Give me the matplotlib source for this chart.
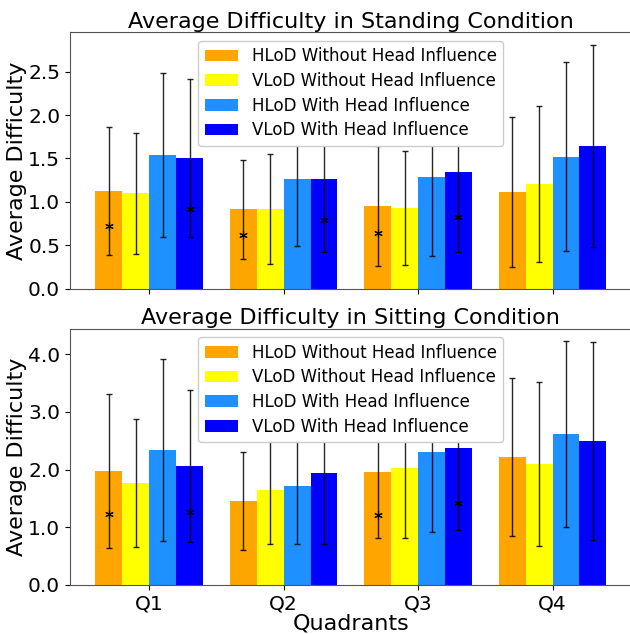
import numpy as np
import matplotlib.pyplot as plt

quadrants = ['Q1', 'Q2', 'Q3', 'Q4']
labels = ['HLoD Without Head Influence', 'VLoD Without Head Influence',
          'HLoD With Head Influence', 'VLoD With Head Influence']
colors = ['orange', 'yellow', 'dodgerblue', 'blue']

# Standing condition: mean and std per series
stand_mean = [
    [1.125, 0.918, 0.953, 1.114],
    [1.100, 0.918, 0.930, 1.206],
    [1.540, 1.264, 1.287, 1.521],
    [1.506, 1.264, 1.345, 1.644],
]
stand_std = [
    [0.735, 0.570, 0.690, 0.860],
    [0.697, 0.635, 0.655, 0.900],
    [0.948, 0.769, 0.914, 1.090],
    [0.908, 0.845, 0.919, 1.168],
]
# asterisk markers (orange and dark blue only)
stand_star_h = [0.72, 0.615, 0.638, np.nan]
stand_star_v = [0.915, 0.79, 0.826, np.nan]

# Sitting condition
sit_mean = [
    [1.977, 1.457, 1.959, 2.220],
    [1.769, 1.647, 2.029, 2.098],
    [2.335, 1.717, 2.306, 2.618],
    [2.063, 1.942, 2.376, 2.497],
]
sit_std = [
    [1.330, 0.850, 1.138, 1.370],
    [1.114, 0.942, 1.214, 1.420],
    [1.580, 1.000, 1.393, 1.610],
    [1.322, 1.225, 1.417, 1.715],
]
sit_star_h = [1.231, np.nan, 1.214, np.nan]
sit_star_v = [1.271, np.nan, 1.422, np.nan]

x = np.arange(len(quadrants))
width = 0.2
offsets = [-0.3, -0.1, 0.1, 0.3]

fig = plt.figure(figsize=(6.3, 6.34), dpi=100)
ax1 = fig.add_axes([0.111, 0.5446, 0.892, 0.4044])
ax2 = fig.add_axes([0.111, 0.0773, 0.892, 0.4043])


def draw(ax, means, stds, star_h, star_v, title):
    for i in range(4):
        ax.bar(x + offsets[i], means[i], width, yerr=stds[i], color=colors[i],
               label=labels[i], capsize=2.5,
               error_kw=dict(ecolor='black', elinewidth=1, capthick=1, alpha=0.85))
    ax.plot(x + offsets[0], star_h, linestyle='none', marker=(6, 2, 0),
            markersize=6, color='black', markeredgewidth=0.8)
    ax.plot(x + offsets[3], star_v, linestyle='none', marker=(6, 2, 0),
            markersize=6, color='black', markeredgewidth=0.8)
    ax.set_title(title, fontsize=16, pad=3)
    ax.set_ylabel('Average Difficulty', fontsize=16, labelpad=1)
    ax.set_xticks(x)
    ax.tick_params(labelsize=14.5)
    for s in ax.spines.values():
        s.set_color('#555555')
    ax.legend(loc='upper center', fontsize=12, labelspacing=0.4, framealpha=1)


draw(ax1, stand_mean, stand_std, stand_star_h, stand_star_v,
     'Average Difficulty in Standing Condition')
ax1.set_xticklabels([])
ax1.set_yticks([0.0, 0.5, 1.0, 1.5, 2.0, 2.5])

draw(ax2, sit_mean, sit_std, sit_star_h, sit_star_v,
     'Average Difficulty in Sitting Condition')
ax2.set_xticklabels(quadrants)
ax2.set_yticks([0.0, 1.0, 2.0, 3.0, 4.0])
ax2.set_yticklabels(['0.0', '1.0', '2.0', '3.0', '4.0'])
ax2.set_xlabel('Quadrants', fontsize=16, labelpad=0)

fig.savefig('out.png', dpi=100)
